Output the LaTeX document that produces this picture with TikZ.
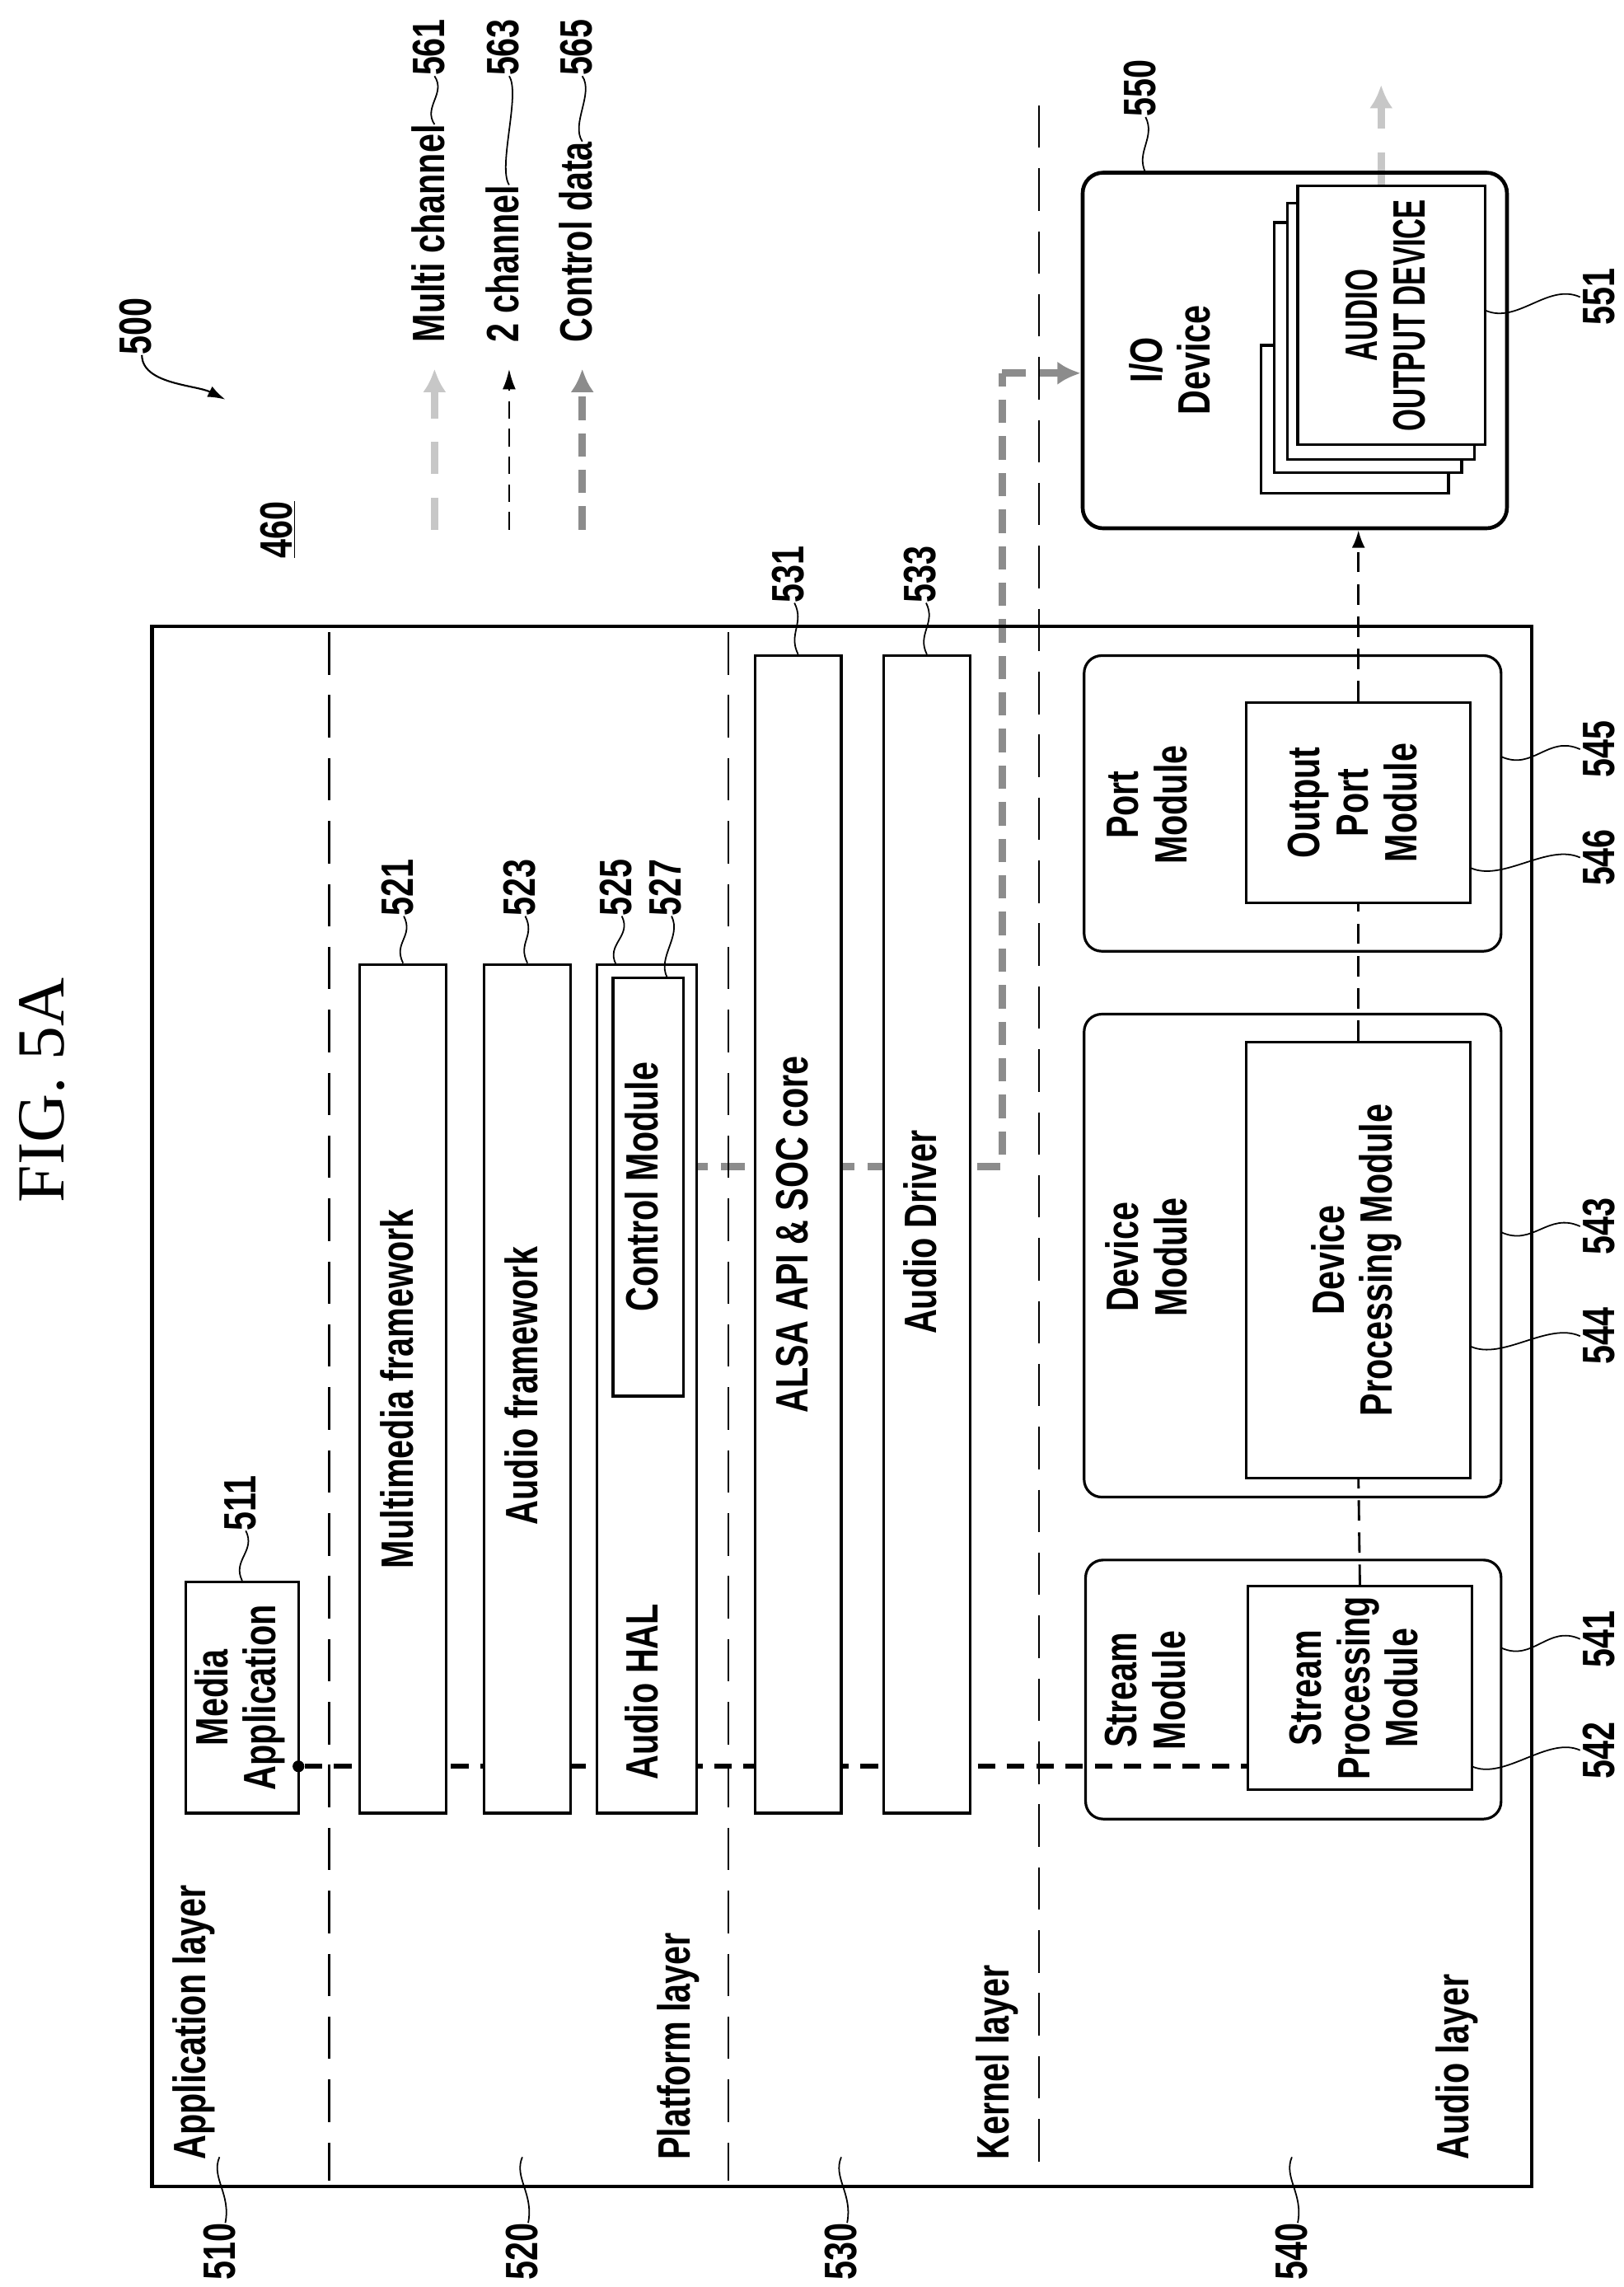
\documentclass[tikz,border=0pt]{standalone}
\usepackage{fontspec}
\setmainfont{Liberation Sans}[FakeStretch=0.75]
\newfontfamily\figfont{Liberation Serif}
\usetikzlibrary{arrows.meta,calc}
\pgfdeclarelayer{bg}
\pgfsetlayers{bg,main}
\newcommand\rt[1]{\rotatebox{90}{\begin{tabular}{@{}c@{}}#1\end{tabular}}}
\newcommand\rtn[1]{\rotatebox{90}{\scalebox{0.84}[1]{\begin{tabular}{@{}c@{}}#1\end{tabular}}}}
\begin{document}
\begin{tikzpicture}[x=1pt,y=-1pt,
  every node/.style={font=\fontsize{31}{33}\selectfont\bfseries, inner sep=0pt},
  box/.style={draw, line width=1.8pt, fill=white, minimum width=#1},
  modbox/.style={draw, line width=1.8pt, rounded corners=12pt},
  sep/.style={line width=1.2pt, dash pattern=on 29pt off 14pt},
  lead/.style={line width=1pt},
  two/.style={line width=3.2pt, dash pattern=on 12pt off 8pt},
  twov/.style={line width=1.6pt, dash pattern=on 14pt off 8pt},
  ctl/.style={line width=5pt, draw=black!45, dash pattern=on 16pt off 9pt},
  multi/.style={line width=5pt, draw=black!22, dash pattern=on 22pt off 16pt},
  gtip/.style={-{Latex[length=16pt,width=16pt]}},
]
\useasboundingbox (0,0) rectangle (1110,1562.8);

% title and frame
\node[font=\figfont\fontsize{46}{48}\selectfont] (fig) at (29,745) {\rotatebox{90}{FIG.\ 5A}};
\node[draw, line width=2.6pt, minimum width=943pt, minimum height=1066pt] (frame) at (575.5,961) {};

% layer separators
\coordinate (s1a) at (225,432); \coordinate (s1b) at (225,1490);
\coordinate (s2a) at (498,432); \coordinate (s2b) at (498,1490);
\coordinate (s3a) at (710,72);  \coordinate (s3b) at (710,1490);
\draw[sep] (s1a) -- (s1b);
\draw[sep] (s2a) -- (s2b);
\draw[sep] (s3a) -- (s3b);

% layer labels
\node[anchor=south] (lapp) at (134,1476) {\rt{Application layer}};
\node[anchor=south] (lplat) at (465,1476) {\rt{Platform layer}};
\node[anchor=south] (lker) at (683,1476) {\rt{Kernel layer}};
\node[anchor=south] (laud) at (997,1476) {\rt{Audio layer}};

% boxes
\node[box=77pt, minimum height=158pt] (mapp) at (165.5,1160) {\rt{Media\\Application}};
\node[box=59pt, minimum height=580pt] (mmf) at (275.5,949) {};
\node (mmft) at (276,949) {\rt{Multimedia framework}};
\node[box=59pt, minimum height=580pt] (af) at (360.5,949) {};
\node (aft) at (361,947) {\rt{Audio framework}};
\node[box=68pt, minimum height=580pt] (hal) at (442,949) {};
\node (halt) at (443,1156) {\rt{Audio HAL}};
\node[box=48pt, minimum height=286pt] (ctrl) at (443,811) {\rt{Control Module}};
\node[box=59pt, minimum height=791pt] (alsa) at (545.5,843.5) {\rt{ALSA API \& SOC core}};
\node[box=59pt, minimum height=791pt] (drv) at (633.5,843.5) {};
\node (drvt) at (633.5,842) {\rt{Audio Driver}};

% audio layer modules
\node[modbox, minimum width=285pt, minimum height=202pt] (port) at (883.5,549) {};
\node[modbox, minimum width=285pt, minimum height=330pt] (dev) at (883.5,858) {};
\node[modbox, minimum width=284pt, minimum height=177pt] (strm) at (884,1154.5) {};
\node (portt) at (788,550) {\rt{Port\\Module}};
\node (devt) at (788,859) {\rt{Device\\Module}};
\node (strmt) at (787,1155) {\rt{Stream\\Module}};
\node[box=153pt, minimum height=137pt] (opm) at (928.5,548.5) {\rt{Output\\Port\\Module}};
\node[box=153pt, minimum height=298pt] (dpm) at (928.5,861) {\rt{Device\\Processing Module}};
\node[box=153pt, minimum height=139pt] (spm) at (929.5,1153.5) {\rt{Stream\\Processing\\Module}};

% I/O device
\node[draw, line width=2.6pt, rounded corners=14pt, minimum width=290pt, minimum height=243pt] (io) at (885,239.5) {};
\node (iot) at (804,246) {\rt{I/O\\Device}};
\node[draw, line width=1.8pt, fill=white, minimum width=128pt, minimum height=101pt] (pg4) at (926,286.5) {};
\node[draw, line width=1.8pt, fill=white, minimum width=128pt, minimum height=171pt] (pg3) at (935,237.5) {};
\node[draw, line width=1.8pt, fill=white, minimum width=128pt, minimum height=175pt] (pg2) at (944,226.5) {};
\node[draw, line width=1.8pt, fill=white, minimum width=128pt, minimum height=177pt] (pg1) at (951,215.5) {\rtn{AUDIO\\OUTPUT DEVICE}};

% connectors
\node[circle, fill, minimum size=8pt] (dot) at (204,1207) {};
\coordinate (outtop) at (944,58);
\coordinate (cbend) at (685,797);
\coordinate (cup) at (685,255);
\begin{pgfonlayer}{bg}
\draw[two] (dot) -- (dot -| spm.west);
\draw[twov] (spm.north) -- (dpm.south);
\draw[twov] (dpm.north) -- (opm.south);
\draw[twov, -{Latex[length=12pt,width=9pt]}] (opm.north) -- (opm.north |- io.south);
\draw[ctl] (ctrl.east |- cbend) -- (cbend) -- (cup);
\draw[ctl, gtip] (cup) -- (io.west |- cup);
\draw[multi, gtip] (pg1.north -| outtop) -- (outtop);
\end{pgfonlayer}

% legend
\coordinate (a1s) at (297,362); \coordinate (a1e) at (297,252);
\coordinate (a2s) at (348,362); \coordinate (a2e) at (348,252);
\coordinate (a3s) at (398,362); \coordinate (a3e) at (398,252);
\draw[multi, gtip] (a1s) -- (a1e);
\draw[line width=1.6pt, dash pattern=on 12pt off 7pt, -{Latex[length=14pt,width=9pt]}] (a2s) -- (a2e);
\draw[ctl, gtip] (a3s) -- (a3e);
\node[anchor=south] (t1) at (297,234) {\rt{Multi channel}};
\node[anchor=south] (t2) at (348,234) {\rt{2 channel}};
\node[anchor=south] (t3) at (398,234) {\rt{Control data}};
\node[anchor=south] (l561) at (297,52) {\rt{561}};
\node[anchor=south] (l563) at (348,52) {\rt{563}};
\node[anchor=south] (l565) at (398,52) {\rt{565}};
\draw[lead] (t1.north) .. controls +(-8,-12) and +(8,12) .. (l561.south);
\draw[lead] (t2.north) .. controls +(-8,-12) and +(8,12) .. (l563.south);
\draw[lead] (t3.north) .. controls +(-8,-12) and +(8,12) .. (l565.south);

\node (l500) at (97,223) {\rt{500}};
\coordinate (a500) at (154,273);
\draw[lead, line width=1.2pt, -{Latex[length=12pt,width=8pt]}] (l500.south) .. controls +(0,20) and +(-20,-10) .. (a500);
\node (l460) at (193,362) {\rt{\underline{460}}};

% reference labels with leaders
\newcommand\vlead[2]{\draw[lead] (#1) .. controls +(-7,-14) and +(7,14) .. (#2);}
\newcommand\hlead[2]{\draw[lead] (#1) .. controls +(22,10) and +(-22,-10) .. (#2);}
\node[anchor=north] (l510) at (154,1519) {\rt{510}};
\node[anchor=north] (l520) at (361,1519) {\rt{520}};
\node[anchor=north] (l530) at (579,1519) {\rt{530}};
\node[anchor=north] (l540) at (887,1519) {\rt{540}};
\coordinate (q510) at (150,1474); \coordinate (q520) at (357,1474);
\coordinate (q530) at (575,1474); \coordinate (q540) at (883,1474);
\draw[lead] (q510) .. controls +(-6,14) and +(4,-20) .. (l510.north);
\draw[lead] (q520) .. controls +(-6,14) and +(4,-20) .. (l520.north);
\draw[lead] (q530) .. controls +(-6,14) and +(4,-20) .. (l530.north);
\draw[lead] (q540) .. controls +(-6,14) and +(4,-20) .. (l540.north);

\node[anchor=south] (l511) at (168,1046) {\rt{511}};
\vlead{mapp.north}{l511.south}
\node[anchor=south] (l521) at (276,626) {\rt{521}};
\vlead{mmf.north}{l521.south}
\node[anchor=south] (l523) at (359,626) {\rt{523}};
\vlead{af.north}{l523.south}
\node[anchor=south] (l525) at (425,626) {\rt{525}};
\coordinate (h525) at (421,659);
\vlead{h525}{l525.south}
\node[anchor=south] (l527) at (459,626) {\rt{527}};
\coordinate (c527) at (456,668);
\vlead{c527}{l527.south}
\node[anchor=south] (l531) at (543,412) {\rt{531}};
\vlead{alsa.north}{l531.south}
\node[anchor=south] (l533) at (633,412) {\rt{533}};
\vlead{drv.north}{l533.south}
\node[anchor=south] (l550) at (783,80) {\rt{550}};
\coordinate (c550) at (783,118);
\vlead{c550}{l550.south}

\node[anchor=west] (l551) at (1080,203) {\rt{551}};
\coordinate (c551) at (1015,212); \hlead{c551}{l551.west}
\node[anchor=west] (l545) at (1080,512) {\rt{545}};
\coordinate (c545) at (1026,517); \hlead{c545}{l545.west}
\node[anchor=west] (l546) at (1080,586) {\rt{546}};
\coordinate (c546) at (1005,593); \hlead{c546}{l546.west}
\node[anchor=west] (l543) at (1080,838) {\rt{543}};
\coordinate (c543) at (1026,842); \hlead{c543}{l543.west}
\node[anchor=west] (l544) at (1080,913) {\rt{544}};
\coordinate (c544) at (1005,920); \hlead{c544}{l544.west}
\node[anchor=west] (l541) at (1080,1120) {\rt{541}};
\coordinate (c541) at (1026,1126); \hlead{c541}{l541.west}
\node[anchor=west] (l542) at (1080,1196) {\rt{542}};
\coordinate (c542) at (1006,1207); \hlead{c542}{l542.west}
\end{tikzpicture}
\end{document}
